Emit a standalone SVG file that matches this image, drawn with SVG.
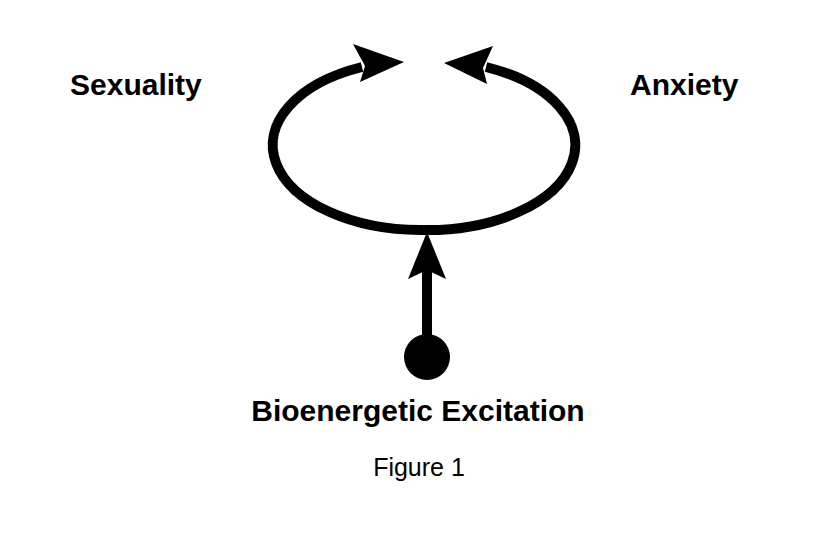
<svg xmlns="http://www.w3.org/2000/svg" width="837" height="549" viewBox="0 0 837 549">
<style>
.b{font-family:"Liberation Sans",Arial,sans-serif;font-weight:bold;font-size:30px;fill:#000}
.n{font-family:"Liberation Sans",Arial,sans-serif;font-size:25px;fill:#000}
.l{fill:none;stroke:#000;stroke-width:10}
</style>
<rect width="837" height="549" fill="#fff"/>
<g id="connectors">
<path class="l" d="M424 230 A148 85 0 0 1 362 67"/>
<polygon points="404,62 353,44 365,66 360,82"/>
<path class="l" d="M424 230 A148 85 0 0 0 486 67"/>
<polygon points="444,63 493,46 483,68 487,84"/>
<line class="l" x1="427" y1="357" x2="427" y2="270"/>
<polygon points="427,232 446,279 427,270 408,279"/>
</g>
<g id="source"><circle cx="427" cy="357" r="23"/></g>
<g id="sexuality"><text class="b" x="70" y="95">Sexuality</text></g>
<g id="anxiety"><text class="b" x="630" y="95">Anxiety</text></g>
<g id="excitation"><text class="b" x="418" y="421" text-anchor="middle">Bioenergetic Excitation</text></g>
<g id="caption"><text class="n" x="419" y="476" text-anchor="middle">Figure 1</text></g>
</svg>
